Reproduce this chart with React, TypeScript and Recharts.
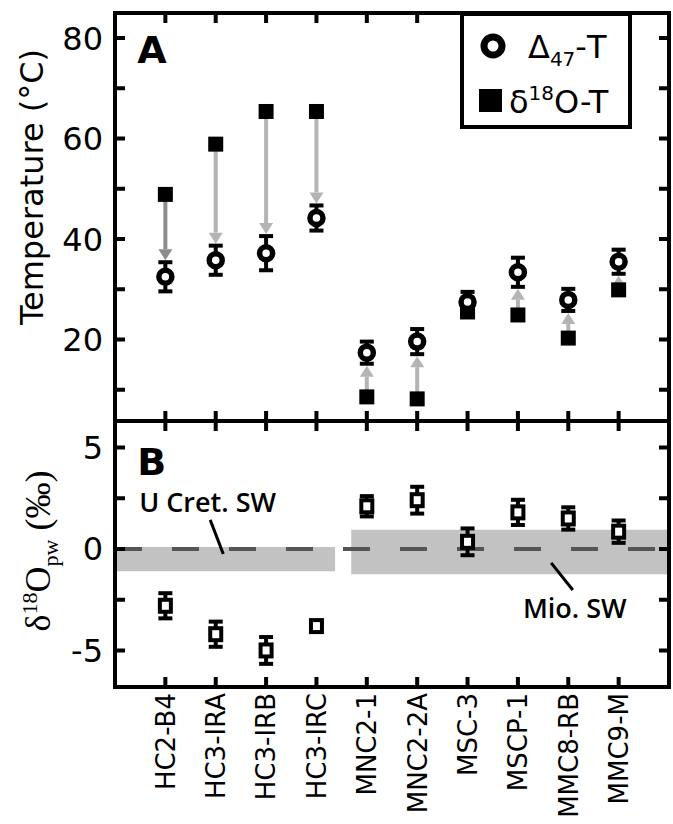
import {
  ErrorBar,
  Legend,
  ReferenceArea,
  ReferenceDot,
  ReferenceLine,
  Scatter,
  ScatterChart,
  XAxis,
  YAxis,
} from "recharts";

const samples = ["HC2-B4", "HC3-IRA", "HC3-IRB", "HC3-IRC", "MNC2-1", "MNC2-2A", "MSC-3", "MSCP-1", "MMC8-RB", "MMC9-M"];
const d47Temp = [32.5, 35.8, 37.2, 44.2, 17.4, 19.6, 27.5, 33.4, 27.9, 35.5];
const d47TempErr = [2.9, 2.9, 3.4, 2.5, 2.2, 2.5, 2.0, 2.9, 2.2, 2.4];
const d18OTemp = [48.9, 58.9, 65.4, 65.4, 8.6, 8.2, 25.5, 24.9, 20.3, 29.9];
const d18Opw = [-2.8, -4.2, -5.0, -3.8, 2.1, 2.4, 0.35, 1.8, 1.5, 0.85];
const d18OpwErr = [0.62, 0.62, 0.66, 0.2, 0.5, 0.66, 0.66, 0.62, 0.55, 0.55];

const tempTicks = [10, 20, 30, 40, 50, 60, 70, 80];
const tempLabels = [20, 40, 60, 80];
const pwTicks = [-5, -2.5, 0, 2.5, 5];
const pwLabels = [-5, 0, 5];
const uCretBand = [-1.1, 0.1];
const mioBand = [-1.25, 0.95];

const SANS = "'DejaVu Sans', sans-serif";
const SERIF = "'Liberation Serif', serif";
const xTicks = samples.map((_, i) => i);
const xDomain = [-1, 10];
const tempDomain = [3.8, 85];
const pwDomain = [-6.8, 6.3];

const tempRows = samples.map((name, i) => ({ i, name, d47: d47Temp[i], err: d47TempErr[i], d18: d18OTemp[i] }));
const pwRows = samples.map((name, i) => ({ i, name, pw: d18Opw[i], err: d18OpwErr[i] }));

// arrows run from the d18O temperature to the edge of the clumped error bar
const arrows = tempRows
  .filter((r) => Math.abs(r.d47 - r.d18) > r.err + 0.5)
  .map((r) => ({
    i: r.i,
    from: r.d18,
    to: r.d18 > r.d47 ? r.d47 + r.err + 0.4 : r.d47 - r.err - 0.4,
  }));

const frame = { stroke: "#000", strokeWidth: 4, strokeLinecap: "square" as const };
const TICK_LEN = 10;

// inward tick marks drawn at both ends of a frame-spanning segment
const vTickPair = (p: any) => {
  const { x1, y1, x2, y2 } = p;
  const d = y2 > y1 ? 1 : -1;
  return (
    <path
      d={`M${x1},${y1}L${x1},${y1 + d * TICK_LEN}M${x2},${y2}L${x2},${y2 - d * TICK_LEN}`}
      stroke="#000"
      strokeWidth={4}
      fill="none"
    />
  );
};
const hTickPair = (p: any) => {
  const { x1, y1, x2, y2 } = p;
  const d = x2 > x1 ? 1 : -1;
  return (
    <path
      d={`M${x1},${y1}L${x1 + d * TICK_LEN},${y1}M${x2},${y2}L${x2 - d * TICK_LEN},${y2}`}
      stroke="#000"
      strokeWidth={4}
      fill="none"
    />
  );
};
const FrameTicks = (yTicks: number[], yDomain: number[]) => [
  ...xTicks.map((t) => (
    <ReferenceLine
      key={`vx${t}`}
      segment={[
        { x: t, y: yDomain[0] },
        { x: t, y: yDomain[1] },
      ]}
      shape={vTickPair}
    />
  )),
  ...yTicks.map((t) => (
    <ReferenceLine
      key={`hy${t}`}
      segment={[
        { x: xDomain[0], y: t },
        { x: xDomain[1], y: t },
      ]}
      shape={hTickPair}
    />
  )),
];

const leftLabel = (labels: number[]) => ({ x, y, payload }: any) =>
  labels.includes(payload.value) ? (
    <text x={x - 12} y={y} dy="0.36em" textAnchor="end" fontFamily={SANS} fontSize={32} fill="#000">
      {String(payload.value)}
    </text>
  ) : (
    <g />
  );

const SampleTick = ({ x, y, payload }: any) => {
  const ty = y + 6;
  return (
    <text
      x={x}
      y={ty}
      dy="0.36em"
      transform={`rotate(-90, ${x}, ${ty})`}
      textAnchor="end"
      fontFamily={SANS}
      fontSize={26}
      fill="#000"
    >
      {samples[payload.value]}
    </text>
  );
};

const arrowShape = (color: string) => (props: any) => {
  const { x1, y1, x2, y2 } = props;
  const dir = y2 > y1 ? 1 : -1;
  const baseY = y2 - dir * 11;
  return (
    <g>
      <line x1={x1} y1={y1} x2={x2} y2={baseY} stroke={color} strokeWidth={4} />
      <polygon points={`${x2},${y2} ${x2 - 7},${baseY} ${x2 + 7},${baseY}`} fill={color} />
    </g>
  );
};

const FilledSquare = (p: any) => <rect x={p.cx - 7.5} y={p.cy - 7.5} width={15} height={15} fill="#000" />;
const Ring = (p: any) => <circle cx={p.cx} cy={p.cy} r={6.5} fill="#fff" stroke="#000" strokeWidth={5.5} />;
const OpenSquare = (p: any) => (
  <rect x={p.cx - 5.5} y={p.cy - 6} width={11} height={12} fill="#fff" stroke="#000" strokeWidth={4} />
);

const panelLetter = (letter: string) => (p: any) => (
  <text x={p.cx} y={p.cy} fontFamily={SANS} fontWeight="bold" fontSize={38} fill="#000">
    {letter}
  </text>
);

const note = (value: string) => (p: any) => (
  <text x={p.cx} y={p.cy} fontFamily="'Open Sans', sans-serif" fontWeight={600} fontSize={27} fill="#000">
    {value}
  </text>
);

function TempTitle({ viewBox }: any) {
  const x = viewBox.x + 43;
  const y = viewBox.y + viewBox.height / 2 - 30;
  return (
    <text x={x} y={y} transform={`rotate(-90, ${x}, ${y})`} textAnchor="middle" fontFamily={SANS} fontSize={32} fill="#000">
      Temperature (°C)
    </text>
  );
}

function PwTitle({ viewBox }: any) {
  const x = viewBox.x + 50;
  const y = viewBox.y + viewBox.height / 2 - 3;
  return (
    <text x={x} y={y} transform={`rotate(-90, ${x}, ${y})`} textAnchor="middle" fontFamily={SERIF} fontSize={36} fill="#000">
      δ<tspan fontSize={22} dy={-13}>18</tspan>
      <tspan dy={13}>O</tspan>
      <tspan fontSize={22} dy={8}>pw</tspan>
      <tspan dy={-8}> (‰)</tspan>
    </text>
  );
}

function LegendBox() {
  return (
    <div style={{ boxSizing: "border-box", width: 172, height: 117, border: "4px solid #000", background: "#fff" }}>
      <svg width={164} height={109} style={{ display: "block" }}>
        <circle cx={29} cy={30} r={9} fill="#fff" stroke="#000" strokeWidth={7} />
        <text x={64} y={42} fontFamily={SANS} fontSize={32} fill="#000">
          Δ<tspan fontSize={20} dy={8}>47</tspan>
          <tspan dy={-8}>-T</tspan>
        </text>
        <rect x={15} y={73} width={23} height={23} fill="#000" />
        <text x={45} y={97} fontFamily={SANS} fontSize={32} fill="#000">
          δ<tspan fontSize={20} dy={-13}>18</tspan>
          <tspan dy={13}>O-T</tspan>
        </text>
      </svg>
    </div>
  );
}

function TemperaturePanel() {
  return (
    <ScatterChart width={673} height={430} margin={{ top: 12, right: 3, bottom: 8, left: 0 }}>
      <XAxis type="number" dataKey="i" domain={xDomain} ticks={xTicks} height={1} tick={false} tickLine={false} axisLine={frame} />
      <XAxis
        xAxisId="top"
        orientation="top"
        type="number"
        domain={xDomain}
        ticks={xTicks}
        height={1}
        tick={false}
        tickLine={false}
        axisLine={frame}
      />
      <YAxis
        type="number"
        domain={tempDomain}
        ticks={tempTicks}
        width={115}
        tickSize={0}
        tickMargin={0}
        tickLine={false}
        axisLine={frame}
        tick={leftLabel(tempLabels)}
        interval={0}
        label={{ content: (p: any) => <TempTitle {...p} /> }}
      />
      <YAxis
        yAxisId="right"
        orientation="right"
        type="number"
        domain={tempDomain}
        ticks={tempTicks}
        width={1}
        tick={false}
        tickLine={false}
        axisLine={frame}
      />
      {FrameTicks(tempTicks, tempDomain)}
      {arrows.map((a) => (
        <ReferenceLine
          key={a.i}
          segment={[
            { x: a.i, y: a.from },
            { x: a.i, y: a.to },
          ]}
          shape={arrowShape(a.i === 0 ? "#8c8c8c" : "#b4b4b4")}
        />
      ))}
      <Scatter data={tempRows} dataKey="d18" name="δ18O-T" shape={FilledSquare} isAnimationActive={false} />
      <Scatter data={tempRows} dataKey="d47" name="Δ47-T" shape={Ring} isAnimationActive={false}>
        <ErrorBar dataKey="err" direction="y" width={7} strokeWidth={4} stroke="#000" isAnimationActive={false} />
      </Scatter>
      <ReferenceDot x={-0.56} y={75} shape={panelLetter("A")} />
      <Legend
        layout="horizontal"
        verticalAlign="middle"
        align="center"
        content={() => <LegendBox />}
        wrapperStyle={{ position: "absolute", left: 460, top: 12, width: 172, height: 117 }}
      />
    </ScatterChart>
  );
}

function PorewaterPanel() {
  return (
    <ScatterChart width={673} height={424} margin={{ top: 20, right: 3, bottom: 0, left: 0 }}>
      <XAxis
        type="number"
        dataKey="i"
        domain={xDomain}
        ticks={xTicks}
        height={137}
        tickSize={0}
        tickMargin={0}
        tickLine={false}
        axisLine={frame}
        tick={<SampleTick />}
        interval={0}
      />
      <XAxis
        xAxisId="top"
        orientation="top"
        type="number"
        domain={xDomain}
        ticks={xTicks}
        height={1}
        tick={false}
        tickLine={false}
        axisLine={frame}
      />
      <YAxis
        type="number"
        domain={pwDomain}
        ticks={pwTicks}
        width={115}
        tickSize={0}
        tickMargin={0}
        tickLine={false}
        axisLine={frame}
        tick={leftLabel(pwLabels)}
        interval={0}
        label={{ content: (p: any) => <PwTitle {...p} /> }}
      />
      <YAxis
        yAxisId="right"
        orientation="right"
        type="number"
        domain={pwDomain}
        ticks={pwTicks}
        width={1}
        tick={false}
        tickLine={false}
        axisLine={frame}
      />
      <ReferenceArea x1={-1} x2={3.37} y1={uCretBand[0]} y2={uCretBand[1]} fill="#c2c2c2" fillOpacity={1} ifOverflow="hidden" />
      <ReferenceArea x1={3.69} x2={10} y1={mioBand[0]} y2={mioBand[1]} fill="#c2c2c2" fillOpacity={1} ifOverflow="hidden" />
      <ReferenceLine y={0} stroke="#555" strokeWidth={4} strokeDasharray="27 30" />
      {FrameTicks(pwTicks, pwDomain)}
      <ReferenceLine
        segment={[
          { x: 0.89, y: 1.43 },
          { x: 1.15, y: -0.25 },
        ]}
        stroke="#000"
        strokeWidth={3}
      />
      <ReferenceLine
        segment={[
          { x: 7.66, y: -0.69 },
          { x: 8.09, y: -2.02 },
        ]}
        stroke="#000"
        strokeWidth={3}
      />
      <Scatter data={pwRows} dataKey="pw" shape={OpenSquare} isAnimationActive={false}>
        <ErrorBar dataKey="err" direction="y" width={7} strokeWidth={4} stroke="#000" isAnimationActive={false} />
      </Scatter>
      <ReferenceDot x={-0.56} y={3.64} shape={panelLetter("B")} />
      <ReferenceDot x={-0.52} y={1.82} shape={note("U Cret. SW")} />
      <ReferenceDot x={7.1} y={-3.4} shape={note("Mio. SW")} />
    </ScatterChart>
  );
}

export default function App() {
  return (
    <div style={{ position: "absolute", left: 0, top: 0, width: 673, height: 824, background: "#fff", overflow: "hidden" }}>
      <div style={{ position: "absolute", left: 0, top: 0 }}>
        <TemperaturePanel />
      </div>
      <div style={{ position: "absolute", left: 0, top: 400 }}>
        <PorewaterPanel />
      </div>
    </div>
  );
}
